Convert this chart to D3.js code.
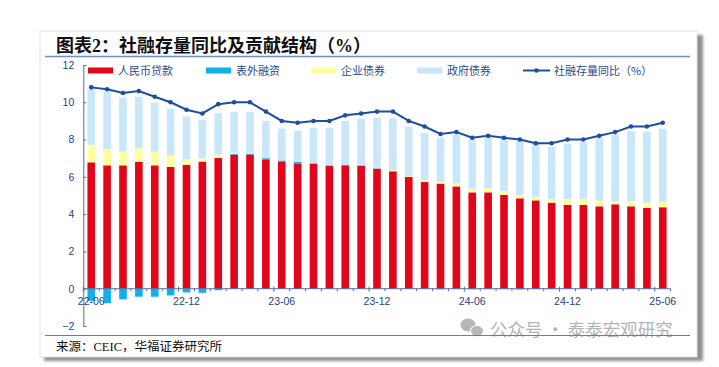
<!DOCTYPE html>
<html><head><meta charset="utf-8">
<script src="https://cdn.jsdelivr.net/npm/d3@7/dist/d3.min.js"></script>
<style>body{margin:0;background:#fff}svg{display:block}</style>
</head><body>
<svg id="c" width="719" height="367"></svg>
<script>
const categories = ["22-06","22-07","22-08","22-09","22-10","22-11","22-12","23-01","23-02","23-03","23-04","23-05","23-06","23-07","23-08","23-09","23-10","23-11","23-12","24-01","24-02","24-03","24-04","24-05","24-06","24-07","24-08","24-09","24-10","24-11","24-12","25-01","25-02","25-03","25-04","25-05","25-06"];
const loans   = [6.78,6.62,6.62,6.80,6.62,6.53,6.64,6.82,7.01,7.19,7.20,6.94,6.83,6.72,6.69,6.58,6.62,6.60,6.44,6.26,6.00,5.72,5.64,5.49,5.17,5.17,5.03,4.85,4.74,4.62,4.50,4.50,4.42,4.53,4.42,4.34,4.37];
const offBS   = [-0.65,-0.77,-0.57,-0.43,-0.43,-0.36,-0.20,-0.22,-0.08,0.04,0.05,0.06,0.05,0.09,0.04,0.04,0.02,0.02,0.02,0.05,0.00,0.02,-0.03,-0.02,-0.03,-0.02,-0.02,-0.04,-0.02,-0.02,-0.01,0,0,0,0,0,0];
const corpBonds = [0.94,0.87,0.76,0.73,0.73,0.60,0.32,0.17,0.18,0.06,0.04,0.00,0.00,0.00,0.00,0.00,0.00,0.00,0.03,0.06,0.05,0.09,0.09,0.16,0.20,0.22,0.21,0.18,0.18,0.20,0.30,0.32,0.30,0.16,0.27,0.28,0.30];
const govBonds  = [2.98,3.08,2.87,2.76,2.62,2.53,2.29,2.07,2.23,2.20,2.20,2.00,1.70,1.66,1.90,2.00,2.36,2.50,2.68,2.78,2.65,2.53,2.38,2.61,2.63,2.71,2.84,2.91,2.84,2.78,2.98,3.03,3.36,3.57,3.78,3.81,3.92];
const tsfGrowth = [10.8,10.7,10.5,10.6,10.3,10.0,9.6,9.4,9.9,10.0,10.0,9.5,9.0,8.9,9.0,9.0,9.3,9.4,9.5,9.5,9.0,8.7,8.3,8.4,8.1,8.2,8.1,8.0,7.8,7.8,8.0,8.0,8.2,8.4,8.7,8.7,8.9];
const seriesNames = ["人民币贷款","表外融资","企业债券","政府债券"];
const lineName = "社融存量同比（%）";
const yTicks = [-2,0,2,4,6,8,10,12];
const xLabels = ["22-06","22-12","23-06","23-12","24-06","24-12","25-06"];
const colors = ["#e1061a","#0fb0ec","#ffff9e","#c9e7fa"];
const lineColor = "#1d4f9c";

const svg = d3.select("#c");
// frame + shadow
const defs = svg.append("defs");
const f = defs.append("filter").attr("id","sh").attr("x","-5%").attr("y","-5%").attr("width","115%").attr("height","115%");
f.append("feGaussianBlur").attr("stdDeviation",1.5);
svg.append("rect").attr("x",44).attr("y",35).attr("width",659).attr("height",326).attr("fill","#8f8f8f").attr("filter","url(#sh)");
svg.append("rect").attr("x",40).attr("y",31).attr("width",657).attr("height",326).attr("fill","#fff").attr("stroke","#e2e2e2").attr("stroke-width",1);

// title
svg.append("text").attr("x",56).attr("y",52).attr("font-family","'Liberation Serif','Noto Sans CJK SC',serif")
  .attr("font-weight","bold").attr("font-size",18).attr("fill","#111").text("图表2：社融存量同比及贡献结构（%）");
svg.append("line").attr("x1",45).attr("x2",690).attr("y1",56.5).attr("y2",56.5).attr("stroke","#6c8fc4").attr("stroke-width",1.5);

// scales
const x = d3.scaleBand().domain(categories).range([83.3,670.7]).paddingInner(0.52).paddingOuter(0.26);
const y = d3.scaleLinear().domain([-2,12]).range([326,65]);

const data = categories.map((c,i)=>({cat:c,loan:loans[i],off:offBS[i],corp:corpBonds[i],gov:govBonds[i]}));
const keys = ["loan","off","corp","gov"];
const stack = d3.stack().keys(keys).offset(d3.stackOffsetDiverging)(data);

const g = svg.append("g");
stack.forEach((s,k)=>{
  g.append("g").attr("fill",colors[k]).selectAll("rect").data(s).join("rect")
   .attr("x",d=>x(d.data.cat)).attr("width",x.bandwidth())
   .attr("y",d=>y(Math.max(d[0],d[1]))).attr("height",d=>Math.abs(y(d[0])-y(d[1])));
});

// y axis
const axisColor = "#4f6ea6";
const tickText = "#23428e";
const yAx = svg.append("g").attr("transform","translate(83.3,0)")
  .call(d3.axisLeft(y).tickValues(yTicks).tickSizeInner(-3).tickSizeOuter(-3).tickPadding(9).tickFormat(d3.format("d")));
yAx.selectAll("path,line").attr("stroke",axisColor);
yAx.selectAll("text").attr("fill",tickText).attr("font-family","'Liberation Sans',Arial,sans-serif").attr("font-size",10.5);

// x axis at 0
const y0 = y(0);
const xAx = svg.append("g").attr("transform",`translate(0,${y0})`)
  .call(d3.axisBottom(x).tickValues(xLabels).tickSize(0).tickPadding(9));
xAx.select("path").attr("stroke",axisColor).attr("d",`M83.3,0H670.7`);
xAx.selectAll("text").attr("fill",tickText).attr("font-family","'Liberation Sans',Arial,sans-serif").attr("font-size",10.5);
const step = x.step();
const bounds = categories.map((c,i)=>({xv:x(c)-(step-x.bandwidth())/2, major:i%6===0}));
bounds.push({xv:x(categories[categories.length-1])+x.bandwidth()+(step-x.bandwidth())/2,major:false});
svg.append("g").selectAll("line").data(bounds).join("line")
  .attr("x1",d=>d.xv).attr("x2",d=>d.xv).attr("y1",d=>d.major? y0-2: y0).attr("y2",d=>d.major? y0+3: y0+2.5)
  .attr("stroke",axisColor).attr("stroke-width",1);

// line
const cx = c => x(c)+x.bandwidth()/2;
svg.append("path").datum(tsfGrowth).attr("fill","none").attr("stroke",lineColor).attr("stroke-width",2)
  .attr("d",d3.line().x((d,i)=>cx(categories[i])).y(d=>y(d)));
svg.append("g").selectAll("circle").data(tsfGrowth).join("circle")
  .attr("cx",(d,i)=>cx(categories[i])).attr("cy",d=>y(d)).attr("r",2.3).attr("fill",lineColor);

// legend
const legY = 70.5;
const legFont = "'Noto Sans CJK SC',sans-serif";
const legColor = "#2b4a8c";
const legX = [88,206,311,417];
seriesNames.forEach((n,i)=>{
  svg.append("rect").attr("x",legX[i]).attr("y",legY-3).attr("width",25).attr("height",6).attr("fill",colors[i]);
  svg.append("text").attr("x",legX[i]+30).attr("y",legY+4).attr("font-family",legFont).attr("font-size",11).attr("fill",legColor).text(n);
});
svg.append("line").attr("x1",523).attr("x2",550).attr("y1",legY).attr("y2",legY).attr("stroke",lineColor).attr("stroke-width",2);
svg.append("circle").attr("cx",536.5).attr("cy",legY).attr("r",2.3).attr("fill",lineColor);
svg.append("text").attr("x",554).attr("y",legY+4).attr("font-family",legFont).attr("font-size",11).attr("fill",legColor).text(lineName);

// watermark
const wm = svg.append("g").attr("fill","#b7b7b7");
wm.append("ellipse").attr("cx",468).attr("cy",325).attr("rx",7.5).attr("ry",6.5);
wm.append("ellipse").attr("cx",477).attr("cy",331).attr("rx",6.5).attr("ry",5.5).attr("stroke","#fff").attr("stroke-width",1.2);
svg.append("text").attr("x",490).attr("y",336).attr("font-family","'Noto Sans CJK SC',sans-serif").attr("font-size",17.5).attr("fill","#b3b3b3").text("公众号 · 泰泰宏观研究");

// bottom rule and source
svg.append("line").attr("x1",45).attr("x2",690).attr("y1",335.5).attr("y2",335.5).attr("stroke","#5f7fb0").attr("stroke-width",1.2);
svg.append("text").attr("x",56).attr("y",351).attr("font-family","'Liberation Serif','Noto Sans CJK SC',serif").attr("font-size",12.5).attr("fill","#111").text("来源：CEIC，华福证券研究所");
</script>
</body></html>
